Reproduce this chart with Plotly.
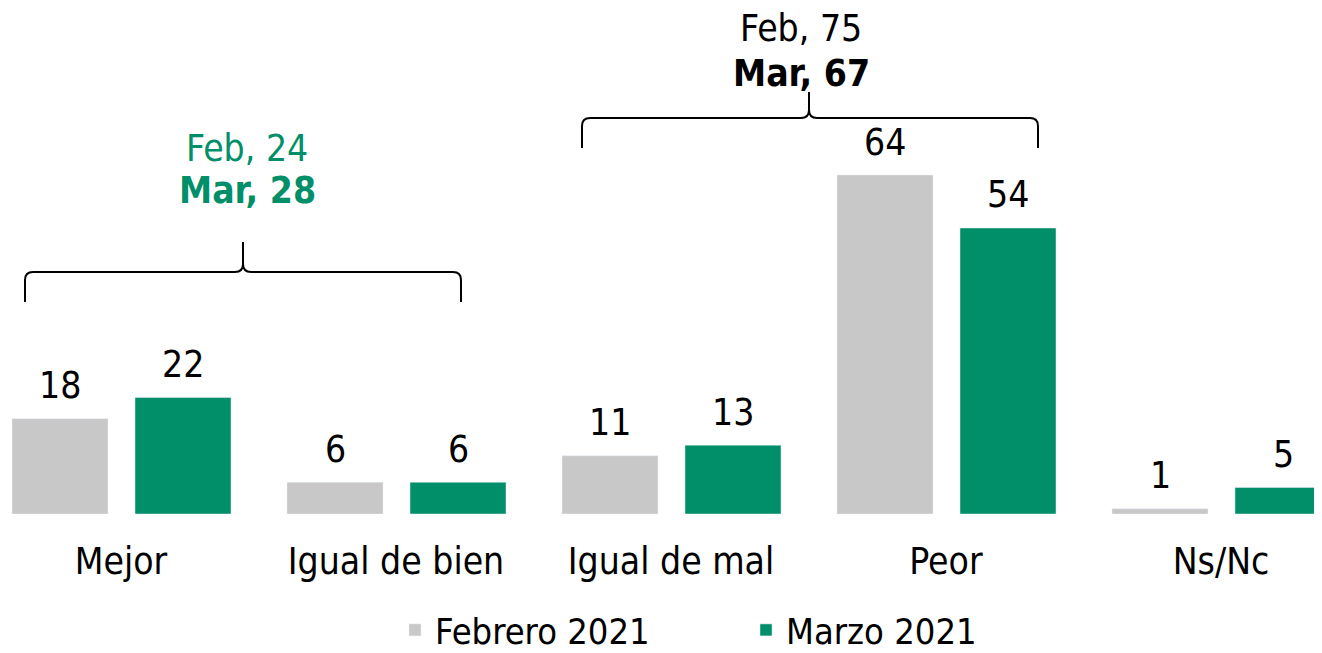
import plotly.graph_objects as go

categories = ["Mejor", "Igual de bien", "Igual de mal", "Peor", "Ns/Nc"]
feb_2021 = [18, 6, 11, 64, 1]
mar_2021 = [22, 6, 13, 54, 5]
series_names = ["Febrero 2021", "Marzo 2021"]
pos_feb, pos_mar = 24, 28
neg_feb, neg_mar = 75, 67

GRAY = "#c8c8c8"
GREEN = "#008f68"
FONT = "DejaVu Sans Condensed, DejaVu Sans, sans-serif"
FS = 37

W, H = 1322, 653
OFF = 8  # page offset of the figure inside the window
PX_PER_UNIT = 339 / 64.0
BASE_PX = 514 - OFF
CAT_STEP = 275.0
CAT0 = 121.0 - OFF

def px_to_x(px):
    return (px - OFF - CAT0) / CAT_STEP

def py_to_y(py):
    return (BASE_PX - (py - OFF)) / PX_PER_UNIT

xs = list(range(len(categories)))
bw = 96 / CAT_STEP

fig = go.Figure()
fig.add_trace(go.Bar(x=xs, y=feb_2021, name=series_names[0], marker_color=GRAY,
                     width=bw, offset=-109 / CAT_STEP))
fig.add_trace(go.Bar(x=xs, y=mar_2021, name=series_names[1], marker_color=GREEN,
                     width=bw, offset=14 / CAT_STEP))

annotations = []
for i, v in enumerate(feb_2021):
    annotations.append(dict(x=i + (-109 + 48) / CAT_STEP, y=v, text=str(v), showarrow=False,
                            yanchor="middle", yshift=33, font=dict(size=FS, color="black", family=FONT)))
for i, v in enumerate(mar_2021):
    annotations.append(dict(x=i + (14 + 48) / CAT_STEP, y=v, text=str(v), showarrow=False,
                            yanchor="middle", yshift=33, font=dict(size=FS, color="black", family=FONT)))

# group totals
annotations += [
    dict(x=px_to_x(247), y=py_to_y(148), text=f"Feb, {pos_feb}", showarrow=False,
         font=dict(size=FS, color=GREEN, family=FONT)),
    dict(x=px_to_x(247), y=py_to_y(190), text=f"<b>Mar, {pos_mar}</b>", showarrow=False,
         font=dict(size=FS, color=GREEN, family=FONT)),
    dict(x=px_to_x(801), y=py_to_y(28), text=f"Feb, {neg_feb}", showarrow=False,
         font=dict(size=FS, color="black", family=FONT)),
    dict(x=px_to_x(801), y=py_to_y(73), text=f"<b>Mar, {neg_mar}</b>", showarrow=False,
         font=dict(size=FS, color="black", family=FONT)),
]

def brace(x0p, x1p, xmp, barp, endp, tipp):
    x0, x1, xm = px_to_x(x0p), px_to_x(x1p), px_to_x(xmp)
    yb, ye, yt = py_to_y(barp), py_to_y(endp), py_to_y(tipp)
    dx = 8 / CAT_STEP
    c = 8 / PX_PER_UNIT
    p = (f"M {x0},{ye} L {x0},{yb - c} Q {x0},{yb} {x0 + dx},{yb} "
         f"L {xm - dx},{yb} Q {xm},{yb} {xm},{yb + c} L {xm},{yt} "
         f"M {xm},{yb + c} Q {xm},{yb} {xm + dx},{yb} "
         f"L {x1 - dx},{yb} Q {x1},{yb} {x1},{yb - c} L {x1},{ye}")
    return dict(type="path", path=p, xref="x", yref="y",
                line=dict(color="black", width=2))

shapes = [brace(25, 461, 243, 272, 302, 242), brace(582, 1038, 809, 118, 148, 92)]

plot_h = BASE_PX
fig.update_layout(
    width=W, height=H,
    margin=dict(l=0, r=0, t=0, b=H - BASE_PX, autoexpand=False),
    plot_bgcolor="white", paper_bgcolor="white",
    font=dict(family=FONT, size=FS, color="black"),
    xaxis=dict(range=[-CAT0 / CAT_STEP, (W - CAT0) / CAT_STEP], tickmode="array", tickvals=xs,
               ticktext=categories, showgrid=False, zeroline=False, showline=False,
               ticks="", ticklabelstandoff=22, tickfont=dict(size=FS), automargin=False),
    yaxis=dict(range=[0, BASE_PX / PX_PER_UNIT], visible=False, automargin=False),
    showlegend=True,
    legend=dict(orientation="h", x=387 / W, xanchor="left",
                y=-(622 - BASE_PX) / plot_h, yanchor="middle",
                font=dict(size=36), entrywidth=306, itemwidth=30),
    annotations=annotations,
    shapes=shapes,
    barmode="group",
)

fig.write_html("out.html")
